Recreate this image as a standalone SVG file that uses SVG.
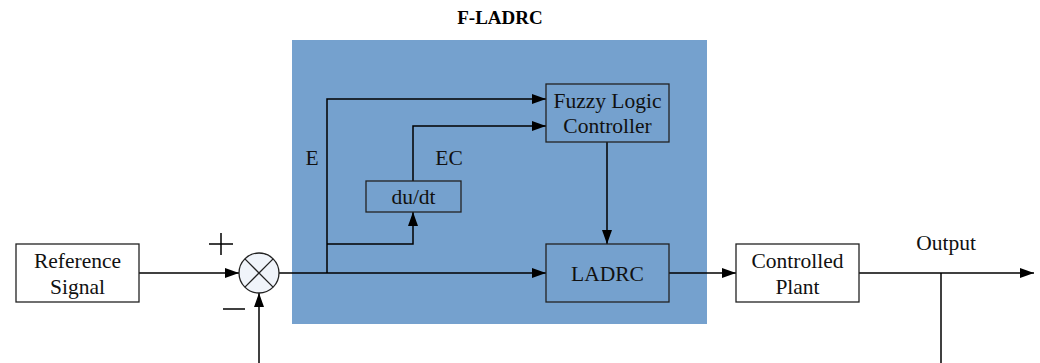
<svg xmlns="http://www.w3.org/2000/svg" width="1040" height="363" viewBox="0 0 1040 363">
  <style>
    .box { fill: #ffffff; stroke: #222222; stroke-width: 1.3; }
    .inner { fill: #75a1ce; stroke: #222222; stroke-width: 1.3; }
    .wire { fill: none; stroke: #000000; stroke-width: 1.5; }
    .lbl { font-family: "Liberation Serif", "Times New Roman", serif; font-size: 21.5px; fill: #111111; text-anchor: middle; }
    .title { font-family: "Liberation Serif", "Times New Roman", serif; font-size: 19px; font-weight: bold; fill: #000000; text-anchor: middle; }
  </style>
  <defs>
    <marker id="arrow" viewBox="0 0 14 10" refX="14" refY="5" markerWidth="14" markerHeight="10" markerUnits="userSpaceOnUse" orient="auto">
      <path d="M0,0 L14,5 L0,10 Z" fill="#000000"/>
    </marker>
  </defs>

  <rect width="1040" height="363" fill="#ffffff"/>

  <!-- F-LADRC enclosure -->
  <g id="fladrc">
    <rect x="292" y="40" width="415" height="284" fill="#75a1ce"/>
    <text class="title" x="500" y="24">F-LADRC</text>
  </g>

  <!-- connectors -->
  <g id="connectors">
    <path class="wire" d="M139,273 H239" marker-end="url(#arrow)"/>
    <path class="wire" d="M279,273 H546" marker-end="url(#arrow)"/>
    <path class="wire" d="M327,273 V99 H546" marker-end="url(#arrow)"/>
    <path class="wire" d="M327,244 H413 V212" marker-end="url(#arrow)"/>
    <path class="wire" d="M413,181 V126 H546" marker-end="url(#arrow)"/>
    <path class="wire" d="M607,142 V244" marker-end="url(#arrow)"/>
    <path class="wire" d="M669,273 H736" marker-end="url(#arrow)"/>
    <path class="wire" d="M859,273 H1034" marker-end="url(#arrow)"/>
    <path class="wire" d="M941,273 V363"/>
    <path class="wire" d="M259,363 V293" marker-end="url(#arrow)"/>
  </g>

  <!-- signal labels -->
  <g id="labels">
    <text class="lbl" x="312" y="165">E</text>
    <text class="lbl" x="449" y="165">EC</text>
    <text class="lbl" x="946" y="250">Output</text>
    <path class="wire" d="M209,244 H233 M221,233 V255"/>
    <path class="wire" d="M223,309 H245"/>
  </g>

  <g id="reference">
    <rect class="box" x="16" y="244" width="123" height="58"/>
    <text class="lbl" x="77.5" y="268">Reference</text>
    <text class="lbl" x="77.5" y="294">Signal</text>
  </g>

  <g id="sum">
    <circle cx="259" cy="273" r="20" fill="#f0f4fa" stroke="#222222" stroke-width="1.3"/>
    <path d="M244.9,258.9 L273.1,287.1 M273.1,258.9 L244.9,287.1" stroke="#222222" stroke-width="1.3"/>
  </g>

  <g id="fuzzy">
    <rect class="inner" x="546" y="84" width="123" height="58"/>
    <text class="lbl" x="607.5" y="108">Fuzzy Logic</text>
    <text class="lbl" x="607.5" y="133">Controller</text>
  </g>

  <g id="dudt">
    <rect class="inner" x="366" y="181" width="95" height="31"/>
    <text class="lbl" x="413.5" y="204">du/dt</text>
  </g>

  <g id="ladrc">
    <rect class="inner" x="546" y="244" width="123" height="58"/>
    <text class="lbl" x="607.5" y="281">LADRC</text>
  </g>

  <g id="plant">
    <rect class="box" x="736" y="244" width="123" height="58"/>
    <text class="lbl" x="797.5" y="268">Controlled</text>
    <text class="lbl" x="797.5" y="294">Plant</text>
  </g>
</svg>
